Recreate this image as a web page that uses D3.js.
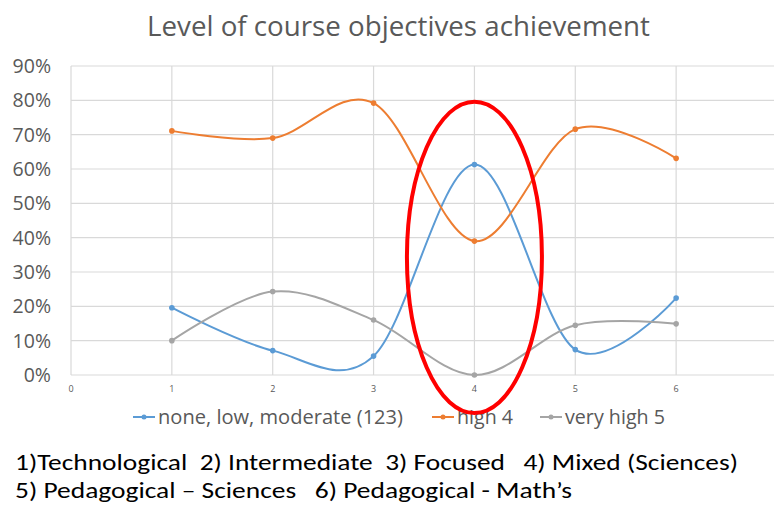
<!DOCTYPE html>
<html><head><meta charset="utf-8">
<script src="https://cdn.jsdelivr.net/npm/d3@7"></script>
<style>body{margin:0;background:#fff}svg{display:block}text{white-space:pre}</style>
</head><body>
<svg id="c" width="774" height="509"></svg>
<script>
const title = "Level of course objectives achievement";
const categories = [1, 2, 3, 4, 5, 6];
const xTicks = [0, 1, 2, 3, 4, 5, 6, 7];
const xTickLabels = [0, 1, 2, 3, 4, 5, 6];
const yTicks = [0, 0.1, 0.2, 0.3, 0.4, 0.5, 0.6, 0.7, 0.8, 0.9];
const seriesNames = ["none, low, moderate (123)", "high 4", "very high 5"];
const lowValues = [0.196, 0.071, 0.055, 0.613, 0.074, 0.224];
const highValues = [0.711, 0.690, 0.792, 0.390, 0.716, 0.631];
const veryHighValues = [0.100, 0.243, 0.160, 0.000, 0.145, 0.149];
const noteLines = [
  "1)Technological  2) Intermediate  3) Focused   4) Mixed (Sciences)",
  "5) Pedagogical \u2013 Sciences   6) Pedagogical - Math\u2019s"
];
const highlightCategory = 4;
const highlightRange = [-0.111, 0.796];

const colors = ["#5b9bd5", "#ed7d31", "#a5a5a5"];
const font = "Carlito, Calibri, 'Liberation Sans Narrow', 'Open Sans', sans-serif";
const tickFont = "'Open Sans', sans-serif";
const series = [lowValues, highValues, veryHighValues];

const svg = d3.select("#c");
const x = d3.scaleLinear().domain([0, 7]).range([71, 777]);
const y = d3.scaleLinear().domain([0, 0.9]).range([375, 66]);

// gridlines
svg.append("g").selectAll("line").data(yTicks).join("line")
  .attr("x1", x(0)).attr("x2", x(7))
  .attr("y1", d => y(d)).attr("y2", d => y(d))
  .attr("stroke", "#d9d9d9").attr("stroke-width", 1.2);
svg.append("g").selectAll("line").data(xTicks).join("line")
  .attr("x1", d => x(d)).attr("x2", d => x(d))
  .attr("y1", y(0)).attr("y2", y(0.9))
  .attr("stroke", "#d9d9d9").attr("stroke-width", 1.2);

// y tick labels
svg.append("g").selectAll("text").data(yTicks).join("text")
  .attr("x", 51).attr("y", d => y(d)).attr("dy", "0.36em")
  .attr("text-anchor", "end").attr("fill", "#595959")
  .style("font-family", tickFont).style("font-size", "19.5px")
  .text(d => d3.format(".0%")(d));

// x tick labels
svg.append("g").selectAll("text").data(xTickLabels).join("text")
  .attr("x", d => x(d)).attr("y", 389).attr("dy", "0.35em")
  .attr("text-anchor", "middle").attr("fill", "#595959")
  .style("font-family", tickFont).style("font-size", "9px")
  .text(d => d);

// lines
const line = d3.line().x((d, i) => x(categories[i])).y(d => y(d)).curve(d3.curveCatmullRom.alpha(0));
series.forEach((vals, si) => {
  svg.append("path").datum(vals).attr("d", line)
    .attr("fill", "none").attr("stroke", colors[si]).attr("stroke-width", 2);
  svg.append("g").selectAll("circle").data(vals).join("circle")
    .attr("cx", (d, i) => x(categories[i])).attr("cy", d => y(d)).attr("r", 2.8)
    .attr("fill", colors[si]);
});

// title
svg.append("text").attr("x", 147).attr("y", 36)
  .attr("fill", "#595959").style("font-family", tickFont).style("font-size", "27px")
  .attr("textLength", 503).attr("lengthAdjust", "spacingAndGlyphs")
  .text(title);

// legend
const legendPos = [{lx: 133, tx: 158, tw: 245}, {lx: 432, tx: 457, tw: 56}, {lx: 540, tx: 565, tw: 100}];
seriesNames.forEach((name, i) => {
  const p = legendPos[i];
  const g = svg.append("g");
  g.append("line").attr("x1", p.lx).attr("x2", p.lx + 22).attr("y1", 417).attr("y2", 417)
    .attr("stroke", colors[i]).attr("stroke-width", 2);
  g.append("circle").attr("cx", p.lx + 11).attr("cy", 417).attr("r", 2.5).attr("fill", colors[i]);
  g.append("text").attr("x", p.tx).attr("y", 424)
    .attr("fill", "#595959").style("font-family", tickFont).style("font-size", "20px")
    .attr("textLength", p.tw).attr("lengthAdjust", "spacingAndGlyphs")
    .text(name);
});

// highlight ellipse
svg.append("ellipse")
  .attr("cx", x(highlightCategory))
  .attr("cy", (y(highlightRange[0]) + y(highlightRange[1])) / 2)
  .attr("rx", 67.5)
  .attr("ry", (y(highlightRange[0]) - y(highlightRange[1])) / 2)
  .attr("fill", "none").attr("stroke", "#ff0000").attr("stroke-width", 4);

// notes
const noteW = [723, 557];
noteLines.forEach((t, i) => {
  svg.append("text").attr("x", 15).attr("y", 470 + i * 28)
    .attr("fill", "#000").style("font-family", font).style("font-size", "23px")
    .attr("textLength", noteW[i]).attr("lengthAdjust", "spacingAndGlyphs")
    .text(t);
});
</script>
</body></html>
